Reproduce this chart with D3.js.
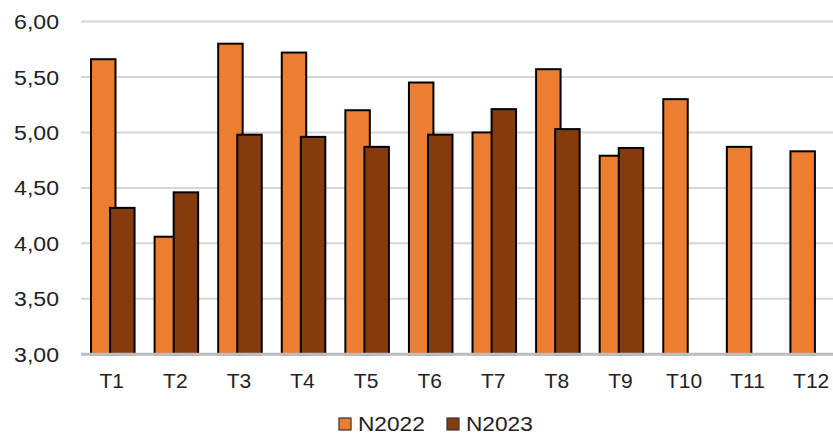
<!DOCTYPE html>
<html><head><meta charset="utf-8">
<script src="https://cdn.jsdelivr.net/npm/d3@7"></script>
<style>html,body{margin:0;padding:0;background:#fff;overflow:hidden}</style>
</head><body>
<svg id="chart" width="833" height="435"></svg>
<script>
const categories = ["T1","T2","T3","T4","T5","T6","T7","T8","T9","T10","T11","T12"];
const n2022 = [5.66,4.06,5.80,5.72,5.20,5.45,5.00,5.57,4.79,5.30,4.87,4.83];
const n2023 = [4.32,4.46,4.98,4.96,4.87,4.98,5.21,5.03,4.86,null,null,null];
const yTicks = [3.0,3.5,4.0,4.5,5.0,5.5,6.0];
const seriesNames = ["N2022","N2023"];
const colors = ["#ED7D31","#843C0C"];

const svg = d3.select("#chart");
const plotL = 81, plotR = 844, plotT = 21.5, plotB = 354.3;
const x = d3.scaleBand().domain(categories).range([plotL, plotR]).padding(0);
const y = d3.scaleLinear().domain([3, 6]).range([plotB, plotT]);
const fmt = v => d3.format(".2f")(v).replace(".", ",");
const font = "'Liberation Sans', Arial, sans-serif";

// gridlines
svg.append("g").selectAll("line").data(yTicks.slice(1)).join("line")
  .attr("x1", plotL).attr("x2", 833)
  .attr("y1", d => y(d)).attr("y2", d => y(d))
  .attr("stroke", "#d6d6d6").attr("stroke-width", 2);

// y labels
svg.append("g").selectAll("text").data(yTicks).join("text")
  .attr("x", 59).attr("y", d => y(d)).attr("dy", "0.36em")
  .attr("text-anchor", "end").attr("font-family", font).attr("font-size", 21)
  .attr("fill", "#222")
  .attr("transform", `translate(59,0) scale(1.1,1) translate(-59,0)`)
  .text(fmt);

const bw = x.bandwidth();
const barW = bw * 0.385, off = bw * 0.15;
const series = [n2022, n2023];
series.forEach((vals, si) => {
  const dx = si === 0 ? -off : off;
  svg.append("g").selectAll("rect")
    .data(categories.map((c, i) => ({c, v: vals[i]})).filter(d => d.v != null))
    .join("rect")
    .attr("x", d => x(d.c) + bw / 2 + dx - barW / 2)
    .attr("width", barW)
    .attr("y", d => y(d.v))
    .attr("height", d => y(3) - y(d.v))
    .attr("fill", colors[si]).attr("stroke", "#000").attr("stroke-width", 2);
});

// baseline
svg.append("line").attr("x1", plotL).attr("x2", 833)
  .attr("y1", y(3)).attr("y2", y(3))
  .attr("stroke", "#bdbdbd").attr("stroke-width", 3);

// x labels
svg.append("g").selectAll("text").data(categories).join("text")
  .attr("x", d => x(d) + bw / 2 - 1).attr("y", 388)
  .attr("text-anchor", "middle").attr("font-family", font).attr("font-size", 21)
  .attr("fill", "#222").text(d => d);

// legend
const legendX = [339, 447];
seriesNames.forEach((name, i) => {
  svg.append("rect").attr("x", legendX[i]).attr("y", 418).attr("width", 12).attr("height", 12)
    .attr("fill", colors[i]).attr("stroke", "#333").attr("stroke-width", 1.2);
  svg.append("text").attr("x", legendX[i] + 19).attr("y", 431.5)
    .attr("font-family", font).attr("font-size", 21).attr("fill", "#222")
    .attr("transform", `translate(${legendX[i] + 19},0) scale(1.08,1) translate(${-(legendX[i] + 19)},0)`)
    .text(name);
});
</script>
</body></html>
